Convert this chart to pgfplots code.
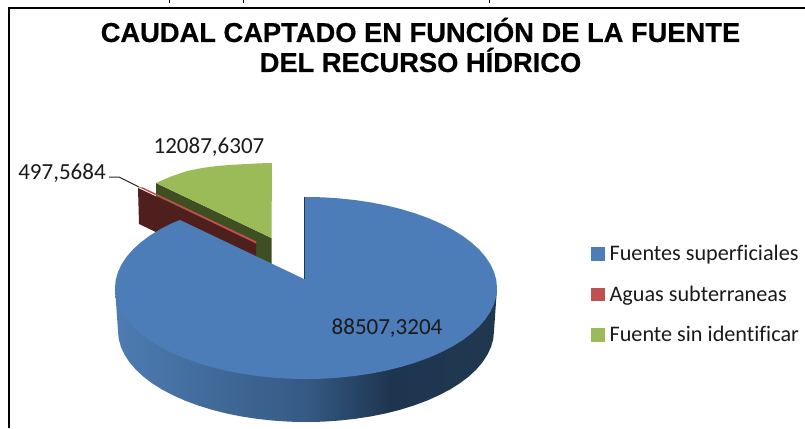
\documentclass[border=0pt]{standalone}
\usepackage{pgfplots}
\pgfplotsset{compat=1.18}
\usepackage{fontspec}
\setmainfont{Carlito}[Ligatures=NoCommon]
\newfontfamily\titlefont{Liberation Sans}[BoldFeatures={FakeBold=0.5}]
\definecolor{pblue}{HTML}{4D7DB9}
\definecolor{pred}{HTML}{C0504D}
\definecolor{pgreen}{HTML}{9BBB59}
\definecolor{dgreen}{HTML}{3F4E23}
\definecolor{dred}{HTML}{4F1F1D}
\definecolor{txt}{HTML}{1A1A1A}
\definecolor{sa}{HTML}{4D7CB3}
\definecolor{sb}{HTML}{3F6795}
\definecolor{sc}{HTML}{355A84}
\definecolor{sd}{HTML}{1E3550}
\definecolor{se}{HTML}{20384F}
\pgfdeclarehorizontalshading{sideblue}{100bp}{color(0bp)=(sa); color(25bp)=(sa); color(40bp)=(sb); color(50bp)=(sc); color(61bp)=(sd); color(75bp)=(se); color(100bp)=(se)}
\begin{document}
\begin{tikzpicture}[x=1pt,y=1pt]
\useasboundingbox (0,0) rectangle (805pt,428pt);
\begin{axis}[
  at={(0,0)},anchor=south west,
  scale only axis,width=805pt,height=428pt,
  xmin=0,xmax=805,ymin=0,ymax=428,y dir=reverse,
  hide axis,clip=true,
  title={CAUDAL CAPTADO EN FUNCIÓN DE LA FUENTE\\DEL RECURSO HÍDRICO},
  title style={at={(axis cs:420.5,51)},anchor=center,align=center,
    font=\titlefont\bfseries\fontsize{27.3}{30}\selectfont,text=black},
  legend style={at={(axis cs:591,243.5)},anchor=north west,draw=none,fill=none,
    font=\fontsize{22.2}{24}\selectfont,text=txt,
    row sep=19.5pt,inner sep=0pt,outer sep=0pt,
    /tikz/every even column/.append style={column sep=0pt}},
  legend cell align=left,
  legend image code/.code={\fill[#1] (0pt,-6pt) rectangle (12.5pt,6.5pt);},
]
% Legend entries
\addlegendimage{pblue}\addlegendentry{\,Fuentes superficiales}
\addlegendimage{pred}\addlegendentry{\,Aguas subterraneas}
\addlegendimage{pgreen}\addlegendentry{\,Fuente sin identificar}

% Frame
\addplot[forget plot,black,line width=2pt] coordinates {(9,428)(9,8)(805,8)};
\addplot[forget plot,black,line width=1pt] coordinates {(169.5,0)(169.5,3)};
\addplot[forget plot,black,line width=1pt] coordinates {(243,0)(243,3)};
\addplot[forget plot,black,line width=1pt] coordinates {(489.5,0)(489.5,3)};

% Green slice (12087,6307)
\addplot[forget plot,fill=dgreen,draw=none] coordinates {(156,183)(271.5,238)(271.5,264)(156,210)} -- cycle;
\addplot[forget plot,fill=pgreen,draw=none] coordinates {(156,183)(171,176.5)(187,171)(202,168)(217,166)(232,164.8)(247,164)(260,163.3)(272,163)(271.5,238)} -- cycle;

% Red slice (497,5684)
\addplot[forget plot,fill=dred,draw=none] coordinates {(138,188)(139,224)(256,280)(256,243)} -- cycle;
\addplot[forget plot,fill=pred,draw=none] coordinates {(138.5,187)(143,187.5)(256.5,241.5)(256,243.5)} -- cycle;

% Blue slice (88507,3204): side wall
\addplot[forget plot,shade,shading=sideblue,draw=none] coordinates {
(497,288)(494,331)(493.3,338.9)(491.1,346.8)(487.5,354.5)(482.6,362.1)(476.3,369.5)(468.8,376.5)(460,383.2)(450,389.5)(438.9,395.3)(426.8,400.7)(413.8,405.5)(400,409.8)(385.4,413.5)(370.3,416.5)(354.6,418.9)(338.7,420.6)(322.3,421.7)(306,422)(289.7,421.7)(273.3,420.6)(257.4,418.9)(241.7,416.5)(226.6,413.5)(212,409.8)(198.2,405.5)(185.2,400.7)(173.1,395.3)(162,389.5)(152,383.2)(143.2,376.5)(135.7,369.5)(129.4,362.1)(124.5,354.5)(120.9,346.8)(118.7,338.9)(118,331)(115,288)} -- cycle;
% Blue slice: top face
\addplot[forget plot,fill=pblue,draw=none] coordinates {
(304,279)(304,197)(306,197)(322.6,197.3)(339.2,198.4)(355.4,200.1)(371.3,202.5)(386.7,205.5)(401.5,209.2)(415.6,213.5)(428.8,218.3)(441.1,223.7)(452.3,229.5)(462.5,235.8)(471.4,242.5)(479.1,249.5)(485.5,256.9)(490.5,264.5)(494.1,272.2)(496.3,280.1)(497,288)(496.3,295.9)(494.1,303.8)(490.5,311.5)(485.5,319.1)(479.1,326.5)(471.4,333.5)(462.5,340.2)(452.3,346.5)(441.1,352.3)(428.8,357.7)(415.6,362.5)(401.5,366.8)(386.7,370.5)(371.3,373.5)(355.4,375.9)(339.2,377.6)(322.6,378.7)(306,379)(289.4,378.7)(272.8,377.6)(256.6,375.9)(240.7,373.5)(225.3,370.5)(210.5,366.8)(196.4,362.5)(183.2,357.7)(170.9,352.3)(159.7,346.5)(149.5,340.2)(140.6,333.5)(132.9,326.5)(126.5,319.1)(121.5,311.5)(117.9,303.8)(115.7,295.9)(115,288)(115.7,280.1)(117.9,272.2)(121.5,264.5)(126.5,256.9)(132.9,249.5)(140.6,242.5)(149.5,235.8)(159.7,229.5)(170.9,223.7)(180,220)} -- cycle;
\addplot[forget plot,black!55!pblue,line width=0.6pt] coordinates {(304,197)(304,279)};

% Leader line
\addplot[forget plot,black!85,line width=1pt] coordinates {(109,177)(119,177)(139,187)};

% Data labels
\node[text=txt,font=\fontsize{23}{24}\selectfont,anchor=center] at (axis cs:209,147) {12087,6307};
\node[text=txt,font=\fontsize{23}{24}\selectfont,anchor=center] at (axis cs:62,173) {497,5684};
\node[text=txt,font=\fontsize{23}{24}\selectfont,anchor=center] at (axis cs:387,328) {88507,3204};
\end{axis}
\end{tikzpicture}
\end{document}
